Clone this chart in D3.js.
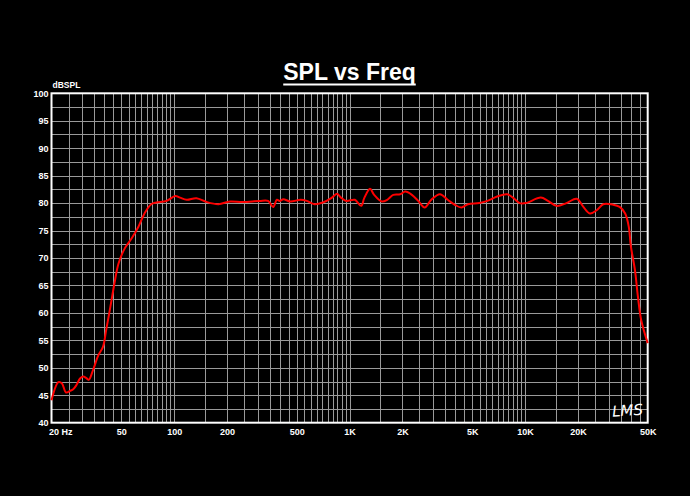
<!DOCTYPE html>
<html><head><meta charset="utf-8">
<script src="https://cdn.jsdelivr.net/npm/d3@7"></script>
<style>body{margin:0;background:#000;}svg{display:block;}</style>
</head><body>
<script>
const freqs = [20,21.9,22.9,24.2,25.5,26.6,27.8,29.0,30.3,31.6,32.6,34.5,37.0,39.3,41.0,43.3,45.7,48.2,52.4,57.3,62.6,68.0,74.0,79.2,90.6,101.5,108,118,134,153,179,208,246,307,343,367,385,400,419,459,526,570,630,704,786,848,893,958,1071,1164,1212,1307,1380,1524,1637,1773,1941,2075,2265,2460,2678,2921,3273,3620,3978,4338,4725,5487,6100,6934,7906,8600,9309,10100,12300,13500,15100,17200,19700,21500,23400,25600,27900,31800,34600,37200,39000,40100,42300,44000,45900,50000];
const spl   = [44.1,47.4,47.2,45.5,45.8,46.1,46.9,48.0,48.4,48.1,47.8,49.6,52.3,53.8,56.9,61.1,65.4,69.0,71.8,73.6,75.7,78.2,79.8,80.1,80.4,81.3,81.0,80.6,80.9,80.2,79.8,80.3,80.2,80.4,80.4,79.3,80.6,80.4,80.7,80.3,80.6,80.4,79.8,80.1,80.9,81.7,81.0,80.4,80.6,79.5,80.9,82.6,81.5,80.3,80.6,81.5,81.6,82.1,81.5,80.4,79.2,80.6,81.6,80.6,79.7,79.2,79.8,80.0,80.4,81.2,81.6,80.9,80.0,80.0,81.0,80.4,79.5,80.0,80.8,79.3,78.1,78.7,79.8,79.7,79.3,78.1,75.7,72.1,67.8,62.9,58.7,54.5];
const xTickValues = [20,50,100,200,500,1000,2000,5000,10000,20000,50000];
const xTickLabels = ["20  Hz","50","100","200","500","1K","2K","5K","10K","20K","50K"];
const yTickValues = [40,45,50,55,60,65,70,75,80,85,90,95,100];

const W = 690, H = 496;
const L = 51.5, R = 647.7, T = 93.3, B = 422.7;
const svg = d3.select("body").append("svg").attr("width", W).attr("height", H).style("background","#000");
svg.append("rect").attr("width",W).attr("height",H).attr("fill","#000");

const x = d3.scaleLog().domain([20, 50000]).range([L, R]);
const y = d3.scaleLinear().domain([40, 100]).range([B, T]);

const vgrid = [];
for (let f = 25; f < 100; f += 5) vgrid.push(f);
for (let f = 100; f < 1000; f += 50) vgrid.push(f);
for (let f = 1000; f < 10000; f += 500) vgrid.push(f);
for (let f = 10000; f < 50000; f += 5000) vgrid.push(f);
const hgrid = d3.range(42.5, 100, 2.5);

const g = svg.append("g");
g.selectAll("line.v").data(vgrid).join("line")
  .attr("x1", d => Math.round(x(d)) + 0.5).attr("x2", d => Math.round(x(d)) + 0.5)
  .attr("y1", T).attr("y2", B).attr("stroke", "#9a9a9a").attr("stroke-width", 1);
g.selectAll("line.h").data(hgrid).join("line")
  .attr("y1", d => Math.round(y(d)) + 0.5).attr("y2", d => Math.round(y(d)) + 0.5)
  .attr("x1", L).attr("x2", R).attr("stroke", "#9a9a9a").attr("stroke-width", 1);

svg.append("rect").attr("x", L).attr("y", T).attr("width", R - L).attr("height", B - T)
  .attr("fill", "none").attr("stroke", "#fff").attr("stroke-width", 2);

const font = "Arial, 'Liberation Sans', sans-serif";
const xAxis = d3.axisBottom(x).tickValues(xTickValues).tickSize(0)
  .tickFormat((d, i) => xTickLabels[i]);
const xg = svg.append("g").attr("transform", `translate(0,${B})`).call(xAxis);
xg.select(".domain").remove();
xg.selectAll("text").attr("fill", "#fff").attr("font-family", font).attr("font-weight", "bold")
  .attr("font-size", 9).attr("dy", "0").attr("y", 12);
xg.selectAll(".tick").filter(d => d === 20).select("text").attr("text-anchor", "start").attr("x", -3);

const yAxis = d3.axisLeft(y).tickValues(yTickValues).tickSize(0);
const yg = svg.append("g").attr("transform", `translate(${L - 2},0)`).call(yAxis);
yg.select(".domain").remove();
yg.selectAll("text").attr("fill", "#fff").attr("font-family", font).attr("font-weight", "bold")
  .attr("font-size", 9).attr("x", -1);

svg.append("text").attr("x", L + 1).attr("y", T - 5).attr("fill", "#fff")
  .attr("font-family", font).attr("font-weight", "bold").attr("font-size", 8.5).text("dBSPL");

const title = svg.append("text").attr("x", 349.5).attr("y", 80).attr("text-anchor", "middle")
  .attr("fill", "#fff").attr("font-family", font).attr("font-weight", "bold").attr("font-size", 23)
  .text("SPL vs Freq");
const bb = title.node().getBBox();
svg.append("rect").attr("x", bb.x).attr("y", 83.5).attr("width", bb.width).attr("height", 2).attr("fill", "#fff");

svg.append("text").attr("x", 612).attr("y", 416).attr("fill", "#fff")
  .attr("font-family", "'DejaVu Sans', sans-serif").attr("font-style", "italic").attr("font-size", 15)
  .attr("transform", "rotate(-4,622,410)").text("LMS");

const data = freqs.map((f, i) => [f, spl[i]]);
const line = d3.line().x(d => x(d[0])).y(d => y(d[1])).curve(d3.curveCatmullRom.alpha(0.5));
svg.append("path").datum(data).attr("d", line).attr("fill", "none")
  .attr("stroke", "#ff0000").attr("stroke-width", 2).attr("stroke-linejoin", "round");
</script>
</body></html>
